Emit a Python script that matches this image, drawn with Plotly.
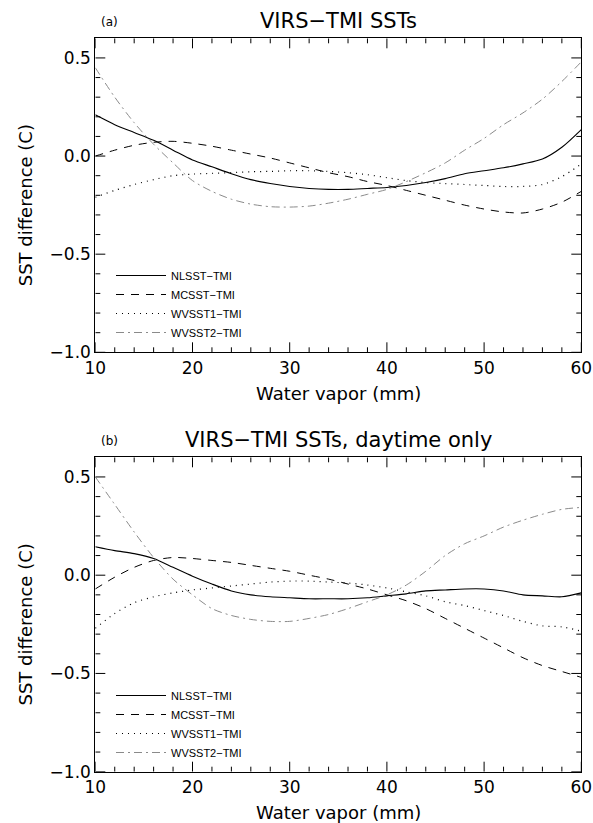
import plotly.graph_objects as go

W, H = 593, 823

# Water vapor (mm)
water_vapor = [10, 12, 14, 16, 18, 20, 22, 24, 26, 28, 30, 32, 34, 36, 38, 40,
               42, 44, 46, 48, 50, 52, 54, 56, 58, 60]

# Panel (a): VIRS-TMI SSTs
nlsst_a = [0.21, 0.16, 0.12, 0.08, 0.03, -0.02, -0.055, -0.09, -0.12, -0.14, -0.155,
           -0.165, -0.17, -0.17, -0.165, -0.16, -0.15, -0.135, -0.115, -0.09, -0.075,
           -0.06, -0.04, -0.015, 0.045, 0.135]
mcsst_a = [0.0, 0.03, 0.055, 0.07, 0.075, 0.065, 0.05, 0.03, 0.01, -0.01, -0.035,
           -0.06, -0.085, -0.105, -0.13, -0.15, -0.175, -0.2, -0.225, -0.25, -0.27,
           -0.285, -0.29, -0.27, -0.235, -0.18]
wvsst1_a = [-0.21, -0.175, -0.145, -0.12, -0.1, -0.092, -0.088, -0.084, -0.08, -0.078,
            -0.075, -0.075, -0.078, -0.085, -0.095, -0.11, -0.125, -0.135, -0.14,
            -0.145, -0.15, -0.155, -0.155, -0.145, -0.105, -0.04]
wvsst2_a = [0.45, 0.30, 0.17, 0.06, -0.035, -0.125, -0.18, -0.22, -0.245, -0.258,
            -0.26, -0.255, -0.24, -0.22, -0.195, -0.17, -0.13, -0.085, -0.035, 0.03,
            0.09, 0.16, 0.22, 0.29, 0.38, 0.48]

# Panel (b): VIRS-TMI SSTs, daytime only
nlsst_b = [0.145, 0.125, 0.11, 0.085, 0.04, -0.005, -0.045, -0.08, -0.1, -0.11, -0.115,
           -0.12, -0.12, -0.12, -0.115, -0.105, -0.095, -0.08, -0.075, -0.07, -0.07,
           -0.08, -0.1, -0.105, -0.11, -0.09]
mcsst_b = [-0.07, -0.01, 0.04, 0.075, 0.09, 0.085, 0.075, 0.065, 0.05, 0.035, 0.02,
           0.0, -0.02, -0.045, -0.07, -0.1, -0.13, -0.17, -0.22, -0.27, -0.32, -0.37,
           -0.42, -0.46, -0.49, -0.52]
wvsst1_b = [-0.27, -0.195, -0.14, -0.11, -0.09, -0.075, -0.065, -0.055, -0.045, -0.035,
            -0.03, -0.03, -0.035, -0.04, -0.05, -0.065, -0.085, -0.105, -0.135, -0.155,
            -0.18, -0.205, -0.235, -0.258, -0.263, -0.285]
wvsst2_b = [0.5, 0.36, 0.22, 0.09, -0.02, -0.1, -0.17, -0.205, -0.225, -0.235, -0.235,
            -0.22, -0.2, -0.17, -0.135, -0.1, -0.05, 0.02, 0.1, 0.16, 0.2, 0.245, 0.28,
            0.31, 0.335, 0.345]

series_names = ["NLSST\u2212TMI", "MCSST\u2212TMI", "WVSST1\u2212TMI", "WVSST2\u2212TMI"]
panel_titles = ["VIRS\u2212TMI SSTs", "VIRS\u2212TMI SSTs, daytime only"]
panel_labels = ["(a)", "(b)"]
x_title = "Water vapor (mm)"
y_title = "SST difference (C)"

# axis ranges and tick positions
x_range = [10, 60]
y_range = [-1.0, 0.6]
x_major = [10, 20, 30, 40, 50, 60]
x_minor = [v for v in range(12, 60, 2) if v % 10 != 0]
y_major = [-1.0, -0.5, 0.0, 0.5]
y_minor = [round(-0.9 + 0.1 * k, 1) for k in range(15)]
y_minor = [v for v in y_minor if v not in y_major]

styles = [
    dict(color="black", dash="solid", width=1.1),
    dict(color="black", dash="8px,7px", width=1),
    dict(color="black", dash="1px,5px", width=1.2),
    dict(color="#8a8a8a", dash="8px,4px,2px,4px", width=1),
]

# plot-area geometry (pixels)
left, right = 95.3, 581.3
tops = [38.3, 457.3]
bottoms = [352.3, 771.7]
MAJOR_LEN, MINOR_LEN = 10, 5

def px(x):
    return x / W

def py(y):
    return 1 - y / H

fig = go.Figure()

panels = [
    (nlsst_a, mcsst_a, wvsst1_a, wvsst2_a),
    (nlsst_b, mcsst_b, wvsst1_b, wvsst2_b),
]
shapes = []
for p, data in enumerate(panels):
    xa = "x" if p == 0 else "x2"
    ya = "y" if p == 0 else "y2"
    leg = "legend" if p == 0 else "legend2"
    for i, vals in enumerate(data):
        fig.add_trace(go.Scatter(
            x=water_vapor, y=vals, mode="lines", name=series_names[i],
            line=dict(shape="spline", smoothing=0.8, **styles[i]),
            xaxis=xa, yaxis=ya, legend=leg,
        ))

    # inward tick marks on all four sides, placed on the axes from the tick lists
    x_per_px = (x_range[1] - x_range[0]) / (right - left)
    y_per_px = (y_range[1] - y_range[0]) / (bottoms[p] - tops[p])
    tick_line = dict(color="black", width=1)
    for vals_, ln in ((x_major, MAJOR_LEN), (x_minor, MINOR_LEN)):
        for v in vals_:
            shapes.append(dict(type="line", xref=xa, yref=ya, x0=v, x1=v,
                               y0=y_range[0], y1=y_range[0] + ln * y_per_px,
                               line=tick_line, layer="above"))
            shapes.append(dict(type="line", xref=xa, yref=ya, x0=v, x1=v,
                               y0=y_range[1], y1=y_range[1] - ln * y_per_px,
                               line=tick_line, layer="above"))
    for vals_, ln in ((y_major, MAJOR_LEN), (y_minor, MINOR_LEN)):
        for v in vals_:
            shapes.append(dict(type="line", xref=xa, yref=ya, y0=v, y1=v,
                               x0=x_range[0], x1=x_range[0] + ln * x_per_px,
                               line=tick_line, layer="above"))
            shapes.append(dict(type="line", xref=xa, yref=ya, y0=v, y1=v,
                               x0=x_range[1], x1=x_range[1] - ln * x_per_px,
                               line=tick_line, layer="above"))

tickfont = dict(family="DejaVu Sans", size=17, color="black")

def xaxis_cfg(anchor):
    return dict(
        domain=[px(left), px(right)], anchor=anchor, range=x_range, automargin=False,
        tickmode="array", tickvals=x_major, ticktext=[str(v) for v in x_major],
        ticks="", showline=True, linecolor="black", linewidth=1, mirror=True,
        showgrid=False, zeroline=False, tickfont=tickfont,
    )

def yaxis_cfg(p, anchor):
    return dict(
        domain=[py(bottoms[p]), py(tops[p])], anchor=anchor, range=y_range,
        automargin=False,
        tickmode="array", tickvals=y_major,
        ticktext=[f"{v:.1f}".replace("-", "\u2212") for v in y_major],
        ticks="", showline=True, linecolor="black", linewidth=1, mirror=True,
        showgrid=False, zeroline=False, tickfont=tickfont,
    )

legfont = dict(family="Liberation Sans", size=11, color="black")
legend_common = dict(
    xanchor="left", yanchor="top", bgcolor="rgba(0,0,0,0)", borderwidth=0,
    font=legfont, itemwidth=50,
)

fig.update_layout(
    template="none",
    width=W, height=H, margin=dict(l=0, r=0, t=0, b=0, autoexpand=False),
    paper_bgcolor="white", plot_bgcolor="white",
    xaxis=xaxis_cfg("y"), yaxis=yaxis_cfg(0, "x"),
    xaxis2=xaxis_cfg("y2"), yaxis2=yaxis_cfg(1, "x2"),
    legend=dict(x=px(111), y=py(261), **legend_common),
    legend2=dict(x=px(111), y=py(681), **legend_common),
    showlegend=True,
    shapes=shapes,
)

annotations = []
for p in range(2):
    annotations.append(dict(
        text=panel_titles[p], x=px((left + right) / 2), y=py(tops[p] - 17),
        xref="paper", yref="paper", showarrow=False, xanchor="center", yanchor="middle",
        font=dict(family="DejaVu Sans", size=21, color="black")))
    annotations.append(dict(
        text=panel_labels[p], x=px(109.3), y=py(tops[p] - 16),
        xref="paper", yref="paper", showarrow=False, xanchor="center", yanchor="middle",
        font=dict(family="DejaVu Sans", size=12, color="black")))
    annotations.append(dict(
        text=x_title, x=px((left + right) / 2), y=py(bottoms[p] + 41),
        xref="paper", yref="paper", showarrow=False, xanchor="center", yanchor="middle",
        font=dict(family="DejaVu Sans", size=18, color="black")))
    annotations.append(dict(
        text=y_title, x=px(25), y=py((tops[p] + bottoms[p]) / 2 + 10),
        xref="paper", yref="paper", showarrow=False, xanchor="center", yanchor="middle",
        textangle=-90, font=dict(family="DejaVu Sans", size=18, color="black")))
fig.update_layout(annotations=annotations)

fig.write_html("out.html", config={"displayModeBar": False},
               post_script="document.body.style.margin='0';document.body.style.padding='0';")
